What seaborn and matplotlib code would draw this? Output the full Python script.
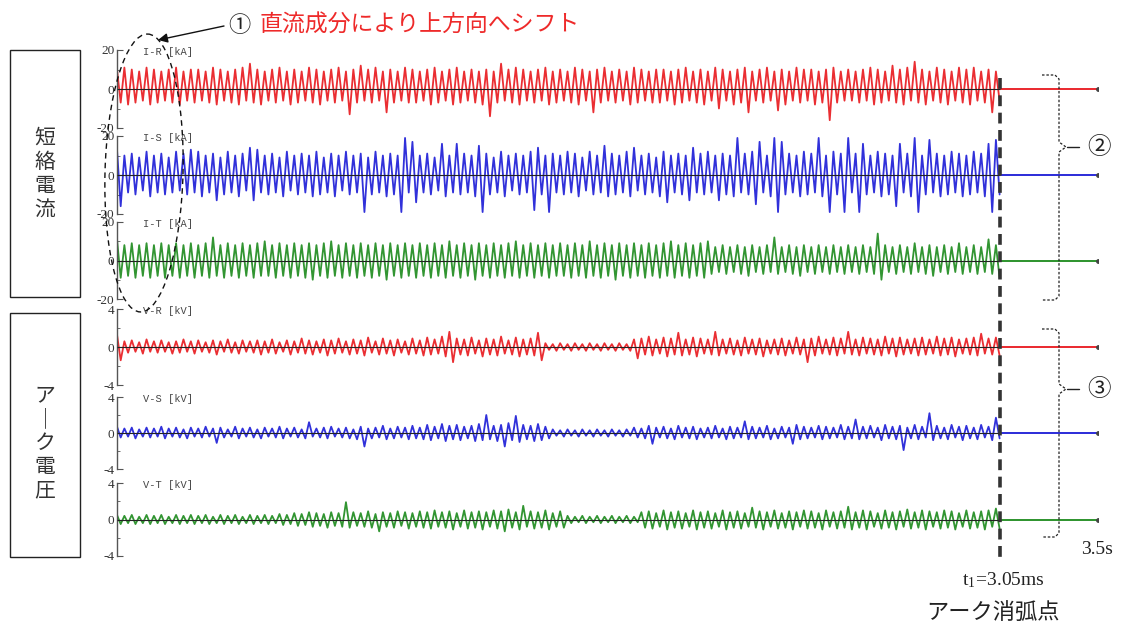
import numpy as np
import matplotlib
matplotlib.use("Agg")
import matplotlib.pyplot as plt
from matplotlib.patches import Rectangle, Ellipse
import seaborn as sns

# ========== データ (波形の山・谷をグラフから読み取り) ==========
# 電流 [kA]
IR_PEAK = [10, 11, 10, 9, 11, 10, 9, 10, 11, 9, 10, 10, 9, 11, 10, 9, 10, 11, 13, 10,
           9, 10, 11, 9, 10, 9, 11, 10, 9, 10, 11, 9, 10, 12, 10, 11, 9, 10, 9, 11,
           10, 9, 10, 11, 9, 10, 11, 9, 10, 9, 10, 9, 13, 10, 11, 10, 9, 10, 11, 9,
           10, 9, 11, 10, 9, 10, 11, 9, 10, 9, 11, 10, 9, 10, 10, 9, 10, 11, 9, 10,
           9, 11, 10, 9, 10, 11, 9, 10, 11, 9, 10, 9, 11, 10, 10, 9, 10, 11, 9, 10,
           9, 10, 11, 10, 9, 12, 10, 11, 14, 10, 9, 11, 10, 9, 11, 10, 11, 9, 10, 9]
IR_TROUGH = [-7, -8, -7, -6, -8, -7, -6, -7, -8, -6, -7, -6, -7, -8, -6, -7, -8, -6, -7, -8,
             -6, -7, -6, -8, -7, -6, -7, -8, -6, -7, -6, -13, -7, -6, -7, -6, -12, -7, -6, -7,
             -7, -6, -8, -7, -6, -8, -7, -6, -7, -8, -14, -7, -6, -7, -8, -6, -7, -6, -8, -7,
             -6, -7, -8, -6, -12, -7, -6, -7, -6, -8, -7, -6, -7, -7, -6, -8, -7, -6, -7, -8,
             -6, -10, -6, -8, -7, -12, -6, -7, -6, -11, -8, -6, -7, -6, -8, -7, -16, -7, -6, -6,
             -7, -6, -8, -7, -6, -7, -8, -6, -7, -8, -6, -7, -8, -6, -7, -8, -6, -7, -12, -6]

IS_PEAK = [13, 10, 11, 9, 12, 10, 11, 9, 12, 11, 13, 12, 10, 11, 9, 12, 10, 11, 14, 13,
           10, 11, 9, 12, 10, 11, 10, 12, 9, 11, 10, 12, 10, 11, 9, 12, 10, 11, 10, 19,
           17, 10, 11, 9, 16, 10, 16, 11, 10, 15, 11, 9, 12, 10, 11, 10, 12, 14, 10, 11,
           10, 12, 11, 9, 12, 10, 15, 11, 10, 12, 14, 10, 11, 9, 12, 10, 11, 10, 14, 11,
           12, 10, 11, 10, 19, 11, 12, 17, 10, 19, 17, 11, 10, 12, 11, 19, 10, 12, 11, 19,
           11, 16, 10, 12, 11, 10, 16, 11, 19, 10, 18, 11, 10, 12, 11, 10, 12, 11, 16, 18]
IS_TROUGH = [-16, -9, -10, -8, -11, -9, -10, -9, -8, -10, -9, -11, -9, -13, -10, -9, -11, -8, -13, -9,
             -10, -9, -11, -8, -10, -9, -11, -10, -9, -11, -8, -10, -9, -19, -10, -9, -11, -10, -19, -9,
             -14, -9, -10, -8, -11, -9, -10, -9, -11, -19, -10, -9, -11, -8, -10, -9, -18, -10, -19, -9,
             -10, -9, -11, -8, -10, -9, -11, -10, -9, -11, -8, -10, -9, -11, -14, -9, -10, -13, -9, -10,
             -9, -13, -10, -11, -9, -10, -15, -9, -11, -19, -10, -9, -11, -10, -9, -11, -19, -10, -19, -9,
             -19, -10, -9, -11, -10, -16, -9, -11, -19, -10, -9, -11, -10, -9, -11, -10, -9, -11, -19, -10]

IT_PEAK = [11, 8, 9, 8, 9, 8, 9, 8, 9, 8, 9, 8, 9, 12, 8, 9, 8, 9, 8, 9,
           10, 8, 9, 8, 9, 8, 9, 8, 9, 10, 8, 9, 8, 9, 8, 9, 8, 9, 8, 9,
           8, 9, 8, 9, 8, 10, 8, 9, 8, 9, 8, 9, 8, 9, 10, 8, 9, 8, 9, 8,
           9, 8, 9, 8, 10, 8, 9, 8, 9, 8, 9, 8, 9, 8, 9, 10, 8, 9, 8, 9,
           10, 7, 8, 7, 8, 7, 8, 7, 8, 12, 7, 8, 7, 8, 7, 8, 7, 8, 7, 8,
           7, 8, 7, 14, 8, 7, 8, 7, 9, 7, 8, 7, 8, 7, 9, 7, 8, 7, 11, 8]
IT_TROUGH = [-9, -8, -9, -8, -9, -8, -9, -8, -9, -8, -9, -8, -9, -8, -9, -8, -9, -8, -9, -8,
             -8, -9, -8, -9, -8, -9, -10, -8, -9, -8, -9, -8, -9, -8, -9, -8, -10, -8, -9, -8,
             -9, -8, -9, -8, -9, -8, -9, -8, -10, -8, -9, -8, -9, -8, -9, -8, -9, -8, -9, -8,
             -8, -9, -8, -9, -8, -9, -8, -10, -8, -9, -8, -9, -8, -9, -8, -9, -8, -9, -8, -9,
             -7, -6, -7, -6, -7, -8, -6, -7, -6, -7, -6, -7, -8, -6, -7, -6, -7, -6, -7, -6,
             -7, -6, -7, -10, -6, -7, -6, -7, -6, -7, -8, -6, -7, -6, -7, -6, -7, -6, -7, -9]

# 電圧 [0.1 kV]
VR_PEAK = [13, 6, 7, 5, 8, 6, 7, 5, 6, 8, 6, 7, 5, 7, 6, 8, 5, 7, 6, 7,
           6, 8, 5, 7, 6, 9, 7, 6, 8, 7, 9, 6, 8, 7, 10, 6, 9, 7, 8, 6,
           9, 7, 10, 8, 11, 16, 9, 8, 10, 7, 9, 8, 11, 7, 10, 8, 9, 15, 4, 3,
           4, 3, 4, 3, 4, 3, 4, 3, 4, 3, 8, 9, 11, 8, 10, 9, 15, 8, 10, 9,
           8, 16, 8, 9, 7, 10, 8, 9, 7, 8, 9, 7, 10, 8, 9, 11, 8, 10, 9, 16,
           8, 10, 9, 8, 11, 9, 10, 8, 9, 10, 8, 11, 9, 10, 8, 9, 10, 14, 9, 10]
VR_TROUGH = [-14, -6, -5, -7, -5, -6, -5, -7, -6, -5, -7, -5, -6, -8, -5, -6, -7, -5, -6, -8,
             -6, -7, -5, -8, -6, -7, -8, -6, -9, -7, -6, -8, -7, -9, -6, -8, -7, -9, -6, -8,
             -7, -9, -8, -7, -10, -16, -8, -9, -7, -10, -8, -9, -7, -8, -10, -8, -9, -14, -3, -4,
             -3, -4, -3, -4, -3, -4, -3, -4, -3, -4, -12, -8, -9, -7, -10, -8, -9, -8, -10, -7,
             -8, -9, -7, -8, -9, -7, -8, -10, -7, -8, -9, -7, -8, -16, -9, -7, -8, -9, -7, -8,
             -9, -7, -8, -9, -7, -10, -8, -7, -9, -8, -7, -9, -8, -10, -7, -8, -9, -7, -8, -9]

VS_PEAK = [7, 5, 6, 4, 6, 5, 7, 5, 6, 4, 6, 5, 7, 5, 6, 4, 7, 5, 6, 4,
           6, 5, 7, 5, 6, 4, 12, 5, 6, 7, 5, 6, 4, 7, 5, 6, 8, 5, 7, 6,
           8, 6, 9, 7, 10, 8, 9, 7, 8, 10, 20, 8, 9, 11, 19, 9, 8, 10, 7, 4,
           3, 4, 3, 4, 3, 4, 3, 4, 3, 4, 6, 5, 8, 6, 7, 5, 8, 6, 7, 5,
           6, 8, 5, 7, 6, 13, 7, 6, 8, 5, 7, 6, 9, 7, 6, 8, 7, 6, 9, 7,
           15, 7, 8, 6, 9, 7, 8, 6, 9, 7, 22, 8, 6, 9, 7, 8, 6, 9, 7, 17]
VS_TROUGH = [-5, -4, -6, -4, -5, -4, -6, -4, -5, -6, -4, -5, -4, -11, -5, -4, -6, -4, -5, -6,
             -4, -5, -6, -4, -5, -6, -4, -5, -6, -4, -5, -6, -7, -15, -6, -5, -7, -6, -5, -7,
             -6, -7, -8, -6, -9, -7, -8, -6, -9, -8, -7, -9, -15, -8, -10, -7, -9, -8, -6, -3,
             -4, -3, -4, -3, -4, -3, -4, -3, -4, -3, -5, -6, -12, -5, -6, -7, -5, -6, -7, -5,
             -6, -5, -7, -6, -5, -7, -6, -5, -7, -6, -5, -12, -7, -6, -5, -7, -6, -5, -7, -6,
             -7, -6, -5, -8, -6, -7, -19, -6, -7, -5, -8, -6, -7, -5, -8, -6, -7, -5, -8, -6]

VT_PEAK = [5, 4, 5, 3, 5, 4, 5, 3, 5, 4, 5, 4, 5, 3, 5, 4, 5, 3, 5, 4,
           5, 4, 6, 5, 7, 6, 8, 7, 6, 8, 7, 19, 8, 7, 9, 6, 8, 7, 9, 8,
           7, 9, 8, 10, 8, 9, 7, 10, 8, 9, 8, 10, 9, 11, 8, 15, 9, 8, 10, 7,
           9, 4, 3, 4, 3, 4, 3, 4, 3, 4, 3, 8, 9, 7, 10, 8, 9, 7, 10, 8,
           9, 7, 10, 8, 9, 7, 13, 9, 8, 10, 7, 9, 8, 10, 9, 7, 10, 8, 9, 14,
           8, 10, 9, 7, 10, 8, 9, 11, 8, 10, 9, 8, 10, 9, 7, 10, 8, 9, 10, 12]
VT_TROUGH = [-5, -4, -5, -4, -5, -4, -5, -4, -5, -4, -5, -4, -5, -4, -5, -4, -5, -4, -5, -4,
             -5, -4, -6, -5, -7, -6, -8, -7, -9, -7, -8, -9, -7, -8, -9, -13, -8, -9, -7, -10,
             -8, -9, -10, -8, -9, -11, -8, -10, -9, -11, -8, -10, -13, -9, -11, -8, -10, -9, -11, -8,
             -9, -4, -3, -4, -3, -4, -3, -4, -3, -4, -3, -9, -10, -8, -11, -9, -10, -8, -11, -9,
             -10, -8, -11, -9, -10, -8, -9, -11, -8, -10, -9, -11, -8, -10, -9, -11, -8, -10, -9, -11,
             -9, -11, -8, -10, -9, -11, -8, -10, -9, -11, -8, -10, -9, -11, -8, -10, -9, -11, -8, -10]

CH_LABELS = ["I-R [kA]", "I-S [kA]", "I-T [kA]", "V-R [kV]", "V-S [kV]", "V-T [kV]"]
CH_SCALE = [1, 1, 1, 0.1, 0.1, 0.1]
CH_LIMIT = [20, 20, 20, 4, 4, 4]
CH_PEAKS = [IR_PEAK, IS_PEAK, IT_PEAK, VR_PEAK, VS_PEAK, VT_PEAK]
CH_TROUGHS = [IR_TROUGH, IS_TROUGH, IT_TROUGH, VR_TROUGH, VS_TROUGH, VT_TROUGH]

T_CUT = 3.05   # アーク消弧点
T_END = 3.39   # 記録の終わり

# ========== スタイル ==========
sns.set_theme(style="white")
plt.rcParams['font.family'] = ['Noto Sans CJK JP', 'DejaVu Sans']
plt.rcParams['axes.unicode_minus'] = False
plt.rcParams['mathtext.fontset'] = 'stix'

COLORS = ["#e8171c", "#1a1ad6", "#1b8a1b"] * 2
W, H = 1123, 626
ROWS = [(50, 128), (136, 214), (222, 299), (309, 385), (397, 469), (483, 556)]
X0, X1 = 117, 1098

fig = plt.figure(figsize=(W / 100, H / 100), dpi=100)

for k in range(6):
    top, bot = ROWS[k]
    ax = fig.add_axes([X0 / W, 1 - bot / H, (X1 - X0) / W, (bot - top) / H])
    ax.patch.set_alpha(0)
    sig = np.empty(2 * len(CH_PEAKS[k]))
    sig[0::2] = CH_PEAKS[k]
    sig[1::2] = CH_TROUGHS[k]
    sig = sig * CH_SCALE[k]
    t = np.linspace(0, T_CUT, len(sig))
    sns.lineplot(x=t, y=sig, ax=ax, color=COLORS[k], lw=1.3, alpha=0.9,
                 estimator=None, sort=False)
    ax.hlines(0, 0, T_CUT, color="#222222", lw=0.8, zorder=3)
    sns.lineplot(x=[T_CUT, T_END], y=[0, 0], ax=ax, color=COLORS[k], lw=1.3,
                 estimator=None, sort=False)
    ax.plot([T_END], [0], "o", ms=2.5, color="#444444")

    lim = CH_LIMIT[k]
    ax.set_xlim(0, T_END)
    ax.set_ylim(-lim, lim)
    ax.set_yticks([-lim, 0, lim])
    ax.set_yticks([-lim / 2, lim / 2], minor=True)
    ax.set_yticklabels([f"-{lim}", "0", f"{lim}"])
    ax.set_xticks([])
    for s in ["top", "right", "bottom"]:
        ax.spines[s].set_visible(False)
    ax.spines["left"].set_color("#555555")
    ax.spines["left"].set_linewidth(1.0)
    ax.tick_params(axis="y", which="major", direction="in", length=4, width=0.8,
                   color="#555555", left=True, pad=2, labelsize=9.5, labelcolor="#333333")
    ax.tick_params(axis="y", which="minor", direction="in", length=2, width=0.6,
                   color="#555555", left=True)
    for lab in ax.get_yticklabels():
        lab.set_fontfamily("Liberation Serif")
    ax.set_xlabel("")
    ax.set_ylabel("")
    ax.text(0.026, 0.97, CH_LABELS[k], transform=ax.transAxes, va="center", ha="left",
            fontsize=7.5, family="Liberation Mono", color="#444444")

# ========== 注記 (ピクセル座標) ==========
ov = fig.add_axes([0, 0, 1, 1], zorder=10)
ov.set_xlim(0, W)
ov.set_ylim(H, 0)
ov.axis("off")
ov.patch.set_alpha(0)

ov.add_patch(Rectangle((10, 50), 70, 247, fill=False, lw=1, ec="#222222"))
ov.add_patch(Rectangle((10, 313), 70, 244, fill=False, lw=1, ec="#222222"))
ov.text(45, 174, "\n".join("短絡電流"), ha="center", va="center", fontsize=15,
        linespacing=1.12, color="#333333")
ov.text(45, 443, "\n".join(["ア", "｜", "ク", "電", "圧"]), ha="center", va="center",
        fontsize=15, linespacing=1.1, color="#333333")

ov.text(239, 25, "①", ha="center", va="center", fontsize=16, color="#222222")
ov.text(260, 25, "直流成分により上方向へシフト", ha="left", va="center",
        fontsize=16.5, color="#ee2a2a")
ov.annotate("", xy=(158, 40), xytext=(224, 26),
            arrowprops=dict(arrowstyle="-|>", color="#111111", lw=1,
                            mutation_scale=14, shrinkA=0, shrinkB=0))
ov.add_patch(Ellipse((144, 173), 78, 278, angle=1.5, fill=False, lw=1,
                     ls=(0, (4, 3)), ec="#111111"))

# アーク消弧点の縦線
ov.plot([1000, 1000], [78, 557], color="#333333", lw=2.6, ls=(0, (3, 1.8)))

# 括弧
for (b_top, b_tip, b_bot), mark in [((75, 147, 300), "②"), ((329, 389, 537), "③")]:
    bx = [1042, 1055, 1059, 1059, 1066, 1059, 1059, 1055, 1042]
    by = [b_top, b_top, b_top + 4, b_tip - 5, b_tip, b_tip + 5, b_bot - 4, b_bot, b_bot]
    ov.plot(bx, by, color="#222222", lw=0.9, ls=(0, (2, 1.5)))
    ov.plot([1067, 1079], [b_tip, b_tip], color="#222222", lw=1)
    ov.text(1099, b_tip + 1, mark, ha="center", va="center", fontsize=17, color="#222222")

ov.text(1097, 549, "3.5s", ha="center", va="center", fontsize=14,
        family="Liberation Serif", color="#222222")
ov.text(1003, 580, r"t$_{\mathregular{1}}$=3.05ms", ha="center", va="center", fontsize=14,
        family="Liberation Serif", color="#222222")
ov.text(993, 612, "アーク消弧点", ha="center", va="center", fontsize=16, color="#222222")

fig.savefig("out.png", dpi=100)
